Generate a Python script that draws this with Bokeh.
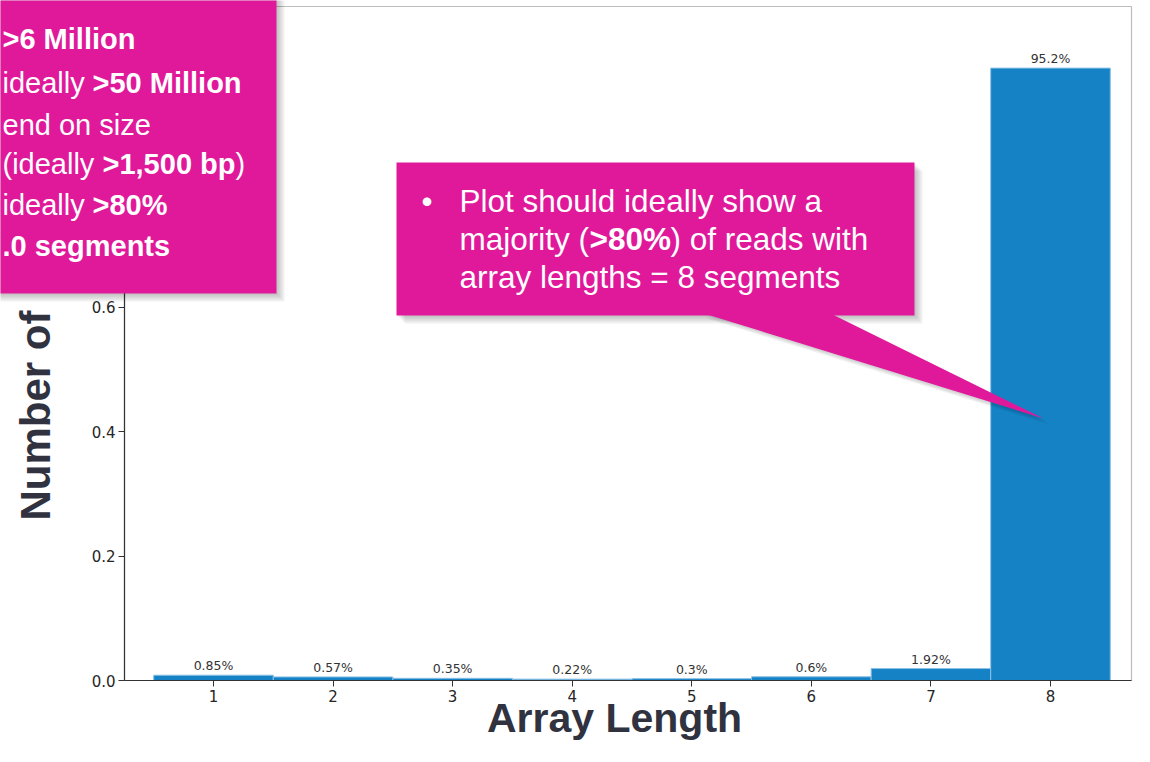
import math
from bokeh.plotting import figure
from bokeh.models import Range1d, FixedTicker, BoxAnnotation, PolyAnnotation, Label, ColumnDataSource
from bokeh.core.properties import value
from bokeh.embed import file_html
from bokeh.resources import INLINE

# ---------------- data ----------------
array_lengths = [1, 2, 3, 4, 5, 6, 7, 8]
read_fraction = [0.0085, 0.0057, 0.0035, 0.0022, 0.0030, 0.0060, 0.0192, 0.984]
bar_labels = ["0.85%", "0.57%", "0.35%", "0.22%", "0.3%", "0.6%", "1.92%", "95.2%"]
x_tick_labels = ["1", "2", "3", "4", "5", "6", "7", "8"]
y_ticks = [0.0, 0.2, 0.4, 0.6]
y_tick_labels = ["0.0", "0.2", "0.4", "0.6"]

# ---------------- layout (canvas pixels) ----------------
W, H = 1134, 746
XPX = 837 / 7.0          # pixels per x unit
X1_PX = 213              # pixel of x = 1
Y0_PX = 680              # pixel of y = 0
TOP_PX = 6               # plot box top
LEFT_PX, RIGHT_PX = 124, 1131
YPX = (Y0_PX - TOP_PX) / 1.083

PINK = "#E0199A"
AXIS_TXT = "#30333F"
BAR = "#1482C5"


def dx(px):
    return 1 + (px - X1_PX) / XPX


def dy(py):
    return (Y0_PX - py) / YPX


p = figure(width=W, height=H,
           x_range=Range1d(dx(0), dx(W)), y_range=Range1d(dy(H), dy(0)),
           output_backend="svg", toolbar_location=None,
           min_border=0, min_border_left=0, min_border_right=0,
           min_border_top=0, min_border_bottom=0)
p.background_fill_color = "white"
p.border_fill_color = "white"
p.outline_line_color = None
p.xgrid.visible = False
p.ygrid.visible = False

# plot box (top / right spines)
p.add_layout(BoxAnnotation(left=dx(LEFT_PX), right=dx(RIGHT_PX), bottom=0, top=dy(TOP_PX),
                           fill_color=None, line_color="#222222", line_width=1.2, level="underlay"))

src = ColumnDataSource(dict(x=array_lengths, top=read_fraction, label=bar_labels,
                            ly=[v + 2 / YPX for v in read_fraction]))
p.vbar(x="x", top="top", bottom=0, width=1.0, source=src,
       fill_color=BAR, line_color="#8cc0e6", line_width=1)
p.text(x="x", y="ly", text="label", source=src, text_align="center", text_baseline="bottom",
       text_font=value("DejaVu Sans"), text_font_size="12.5px", text_color="#333333")

for ax in (p.xaxis[0], p.yaxis[0]):
    ax.axis_line_color = "#333333"
    ax.axis_line_width = 1.2
    ax.major_tick_line_color = "#333333"
    ax.major_tick_out = 6
    ax.major_tick_in = 0
    ax.minor_tick_out = 0
    ax.minor_tick_in = 0
    ax.major_label_standoff = 3
    ax.major_label_text_font = "DejaVu Sans"
    ax.major_label_text_font_size = "15px"
    ax.major_label_text_color = "#262626"

p.xaxis.ticker = FixedTicker(ticks=array_lengths)
p.xaxis.major_label_overrides = {a: t for a, t in zip(array_lengths, x_tick_labels)}
p.xaxis.fixed_location = 0
p.xaxis.bounds = (dx(LEFT_PX), dx(RIGHT_PX))
p.yaxis.ticker = FixedTicker(ticks=y_ticks)
p.yaxis.major_label_overrides = {a: t for a, t in zip(y_ticks, y_tick_labels)}
p.yaxis.fixed_location = dx(LEFT_PX)
p.yaxis.bounds = (0, dy(TOP_PX))


def shadow_box(l, r, t, b):
    for k in (2, 4, 6, 8):
        p.add_layout(BoxAnnotation(left=dx(l + k), right=dx(r + k), top=dy(t + k), bottom=dy(b + k),
                                   fill_color="black", fill_alpha=0.06, line_color=None))


def shadow_poly(xs, ys):
    for k in (2, 4, 6):
        p.add_layout(PolyAnnotation(xs=[dx(x + k) for x in xs], ys=[dy(y + k) for y in ys],
                                    fill_color="black", fill_alpha=0.06, line_color=None))


# left info box
shadow_box(-20, 276, -20, 293)
p.add_layout(BoxAnnotation(left=dx(-20), right=dx(276), top=dy(-20), bottom=dy(293),
                           fill_color=PINK, fill_alpha=1, line_color=None))

# callout box with pointer
ptr_x = [700, 828, 1043]
ptr_y = [312, 312, 418]
shadow_box(396, 914, 162, 315)
shadow_poly(ptr_x, ptr_y)
p.add_layout(BoxAnnotation(left=dx(396), right=dx(914), top=dy(162), bottom=dy(315),
                           fill_color=PINK, fill_alpha=1, line_color=None))
p.add_layout(PolyAnnotation(xs=[dx(x) for x in ptr_x], ys=[dy(y) for y in ptr_y],
                            fill_color=PINK, fill_alpha=1, line_color=None))


def txt(s, px, py, size, bold=False, color="white", rotated=False, align="left"):
    # px, py: desired baseline start point in canvas pixels
    if rotated:
        px = px - 0.42 * size
    else:
        py = py - 0.38 * size
    p.add_layout(Label(x=dx(px), y=dy(py), text=s, text_font="Liberation Sans",
                       text_font_size=f"{size}px", text_font_style="bold" if bold else "normal",
                       text_color=color, text_align=align, text_baseline="alphabetic",
                       angle=math.pi / 2 if rotated else 0.0))


# left box text
L0 = 2
F1 = 29
txt(">6 Million", L0, 50, F1, True)
txt("ideally ", L0, 94, F1)
txt(">50 Million", L0 + 90, 94, F1, True)
txt("end on size", L0, 136, F1)
txt("(ideally ", L0, 175, F1)
txt(">1,500 bp", L0 + 100, 175, F1, True)
txt(")", L0 + 233, 175, F1)
txt("ideally ", L0, 216, F1)
txt(">80%", L0 + 90, 216, F1, True)
txt(".0 segments", L0, 257, F1, True)

# callout text
F2 = 31.5
txt("\u2022", 421, 212, F2)
txt("Plot should ideally show a", 459, 212, F2)
txt("majority (", 459, 250, F2)
txt(">80%", 589, 250, F2, True)
txt(") of reads with", 670, 250, F2)
txt("array lengths = 8 segments", 459, 288, F2)

# axis titles
txt("Number of", 53, 520, 42, True, AXIS_TXT, rotated=True)
txt("Array Length", 614, 733, 41, True, AXIS_TXT, align="center")

open("out.html", "w").write(file_html(p, INLINE))
